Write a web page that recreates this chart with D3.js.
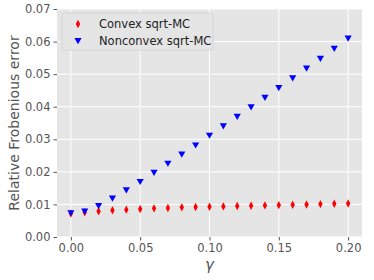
<!DOCTYPE html>
<html>
<head>
<meta charset="utf-8">
<script src="https://cdn.jsdelivr.net/npm/d3@7"></script>
<style>
  body { margin: 0; background: #fff; }
  text { font-family: "DejaVu Sans", sans-serif; }
</style>
</head>
<body>
<svg id="chart" width="374" height="280"></svg>
<script>
// gamma values
const gammas = [0.00, 0.01, 0.02, 0.03, 0.04, 0.05, 0.06, 0.07, 0.08, 0.09, 0.10,
                0.11, 0.12, 0.13, 0.14, 0.15, 0.16, 0.17, 0.18, 0.19, 0.20];
const convex = [0.0072, 0.0076, 0.0079, 0.0082, 0.0084, 0.0086, 0.0088, 0.0089, 0.0091, 0.0092, 0.0093,
                0.0094, 0.0095, 0.0096, 0.0097, 0.0098, 0.0099, 0.0100, 0.0101, 0.0102, 0.0103];
const nonconvex = [0.0075, 0.0080, 0.0097, 0.0120, 0.0145, 0.0171, 0.0199, 0.0227, 0.0255, 0.0283, 0.0313,
                   0.0342, 0.0371, 0.0400, 0.0429, 0.0459, 0.0489, 0.0519, 0.0549, 0.0580, 0.0611];
const xTicks = [0.00, 0.05, 0.10, 0.15, 0.20];
const yTicks = [0.00, 0.01, 0.02, 0.03, 0.04, 0.05, 0.06, 0.07];
const seriesNames = ["Convex sqrt-MC", "Nonconvex sqrt-MC"];

const margin = { left: 57, top: 9, right: 12, bottom: 43 };
const width = 374, height = 280;

const svg = d3.select("#chart");

const x = d3.scaleLinear().domain([-0.01, 0.21]).range([margin.left, width - margin.right]);
const y = d3.scaleLinear().domain([0, 0.07]).range([height - margin.bottom, margin.top]);

// background
svg.append("rect")
    .attr("x", margin.left).attr("y", margin.top)
    .attr("width", width - margin.left - margin.right)
    .attr("height", height - margin.top - margin.bottom)
    .attr("fill", "#e5e5e5");

// grid
svg.append("g").selectAll("line").data(xTicks).enter().append("line")
    .attr("x1", d => x(d)).attr("x2", d => x(d))
    .attr("y1", margin.top).attr("y2", height - margin.bottom)
    .attr("stroke", "#fff").attr("stroke-width", 1);
svg.append("g").selectAll("line").data(yTicks).enter().append("line")
    .attr("y1", d => y(d)).attr("y2", d => y(d))
    .attr("x1", margin.left).attr("x2", width - margin.right)
    .attr("stroke", "#fff").attr("stroke-width", 1);

// axes
const xAxis = svg.append("g")
    .attr("transform", `translate(0,${height - margin.bottom})`)
    .call(d3.axisBottom(x).tickValues(xTicks).tickFormat(d3.format(".2f")).tickSize(3.5).tickPadding(3));
const yAxis = svg.append("g")
    .attr("transform", `translate(${margin.left},0)`)
    .call(d3.axisLeft(y).tickValues(yTicks).tickFormat(d3.format(".2f")).tickSize(3.5).tickPadding(3));
[xAxis, yAxis].forEach(a => {
    a.select(".domain").remove();
    a.selectAll(".tick line").attr("stroke", "#555");
    a.selectAll(".tick text").attr("fill", "#555").attr("font-size", "11.5px");
});

// axis labels
svg.append("text")
    .attr("x", x(0.10)).attr("y", 270)
    .attr("text-anchor", "middle")
    .attr("fill", "#555")
    .attr("font-size", "15px")
    .attr("font-style", "italic")
    .text("γ");
svg.append("text")
    .attr("transform", `translate(19,${(margin.top + height - margin.bottom) / 2}) rotate(-90)`)
    .attr("text-anchor", "middle")
    .attr("fill", "#555")
    .attr("font-size", "14px")
    .text("Relative Frobenious error");

// markers
const diamond = "M0,-4.2L2.2,0L0,4.2L-2.2,0Z";
const triDown = "M-3.6,-2.4L3.6,-2.4L0,3.8Z";

svg.append("g").selectAll("path").data(gammas).enter().append("path")
    .attr("transform", (d, i) => `translate(${x(d)},${y(convex[i])})`)
    .attr("d", diamond)
    .attr("fill", "red");

svg.append("g").selectAll("path").data(gammas).enter().append("path")
    .attr("transform", (d, i) => `translate(${x(d)},${y(nonconvex[i])})`)
    .attr("d", triDown)
    .attr("fill", "blue");

// legend
const lg = svg.append("g").attr("transform", "translate(62,13)");
lg.append("rect")
    .attr("width", 151).attr("height", 37).attr("rx", 2)
    .attr("fill", "#e5e5e5").attr("stroke", "#d0d0d0").attr("stroke-width", 0.8);
const shapes = [diamond, triDown];
const colors = ["red", "blue"];
seriesNames.forEach((name, i) => {
    lg.append("path")
        .attr("transform", `translate(16,${11 + i * 16.5})`)
        .attr("d", shapes[i])
        .attr("fill", colors[i]);
    lg.append("text")
        .attr("x", 37).attr("y", 15 + i * 16.5)
        .attr("fill", "#222")
        .attr("font-size", "11.5px")
        .text(name);
});
</script>
</body>
</html>
